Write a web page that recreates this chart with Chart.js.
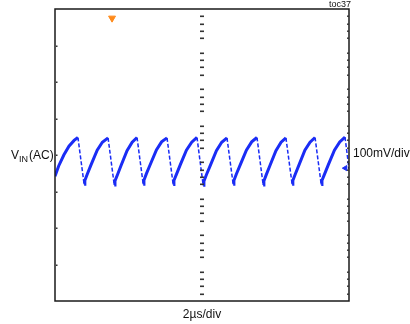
<!DOCTYPE html>
<html>
<head>
<meta charset="utf-8">
<script src="https://cdn.jsdelivr.net/npm/chart.js@4.4.1/dist/chart.umd.min.js"></script>
<style>
  body { margin: 0; background: #fff; }
</style>
</head>
<body>
<canvas id="scopeChart" width="410" height="324"></canvas>
<script>
// time in microseconds, 0..20 (10 divisions of 2us)
const timeUs = [
  0, 0.25, 0.6, 0.95, 1.3, 1.56,
  1.98, 2.03, 2.2, 2.45, 2.87, 3.22, 3.61,
  4.03, 4.08, 4.25, 4.5, 4.9, 5.25, 5.58,
  6.0, 6.05, 6.22, 6.48, 6.9, 7.25, 7.62,
  8.04, 8.09, 8.26, 8.52, 8.94, 9.3, 9.66,
  10.08, 10.13, 10.3, 10.56, 10.98, 11.34, 11.70,
  12.12, 12.17, 12.34, 12.6, 13.02, 13.38, 13.74,
  14.16, 14.21, 14.38, 14.63, 15.03, 15.38, 15.71,
  16.13, 16.18, 16.35, 16.6, 17.0, 17.35, 17.69,
  18.11, 18.16, 18.33, 18.59, 19.01, 19.37, 19.73,
  20.0
];
// VIN (AC) in mV, 100mV/div
const vinMv = [
  -58, -30, 0, 24, 40, 48,
  -80, -70, -52, -27, 13, 35, 47,
  -82, -71, -54, -28, 12, 35, 48,
  -80, -69, -51, -26, 14, 36, 47,
  -81, -70, -53, -27, 13, 35, 48,
  -83, -72, -54, -29, 12, 35, 47,
  -80, -70, -52, -27, 13, 36, 48,
  -82, -71, -53, -28, 12, 35, 47,
  -80, -70, -52, -27, 13, 35, 48,
  -81, -70, -53, -27, 13, 36, 49,
  -38
];
const triggerPos = { x: 3.88, y: 375 };
const groundPos = { x: 19.75, y: -36 };

const yMajor = [-300, -200, -100, 0, 100, 200, 300];
const yMinorStep = 20;

const points = timeUs.map((t, i) => ({ x: t, y: vinMv[i] }));

const scopeDecor = {
  id: 'scopeDecor',
  afterDatasetsDraw(chart) {
    const { ctx, chartArea: a, scales: { x, y } } = chart;
    ctx.save();
    // frame
    ctx.strokeStyle = '#1a1a1a';
    ctx.lineWidth = 1.5;
    ctx.strokeRect(a.left, a.top, a.right - a.left, a.bottom - a.top);

    ctx.fillStyle = '#333';
    const cx = x.getPixelForValue(10);
    for (let v = y.min + yMinorStep; v < y.max; v += yMinorStep) {
      if (v % 100 === 0) continue;
      const py = Math.round(y.getPixelForValue(v));
      ctx.fillRect(cx - 2, py - 0.5, 4, 1.6);
      ctx.fillRect(a.right - 2, py - 0.5, 2, 1.4);
    }
    yMajor.forEach(v => {
      const py = Math.round(y.getPixelForValue(v));
      ctx.fillRect(a.left + 1, py - 0.5, 1.5, 1.5);
    });

    // texts
    ctx.fillStyle = '#111';
    ctx.textBaseline = 'alphabetic';
    ctx.font = '12px "Liberation Sans", Arial, sans-serif';
    const midY = y.getPixelForValue(0);
    ctx.textAlign = 'left';
    ctx.fillText('100mV/div', a.right + 4, midY + 2);
    ctx.textAlign = 'center';
    ctx.fillText('2\u00b5s/div', cx, a.bottom + 17);

    // V_IN (AC)
    ctx.textAlign = 'left';
    let tx = 11;
    ctx.font = '12px "Liberation Sans", Arial, sans-serif';
    ctx.fillText('V', tx, midY + 4);
    tx += ctx.measureText('V').width;
    ctx.font = '9px "Liberation Sans", Arial, sans-serif';
    ctx.fillText('IN', tx, midY + 7);
    tx += ctx.measureText('IN').width + 1;
    ctx.font = '12px "Liberation Sans", Arial, sans-serif';
    ctx.fillText('(AC)', tx, midY + 4);

    ctx.font = '9px "Liberation Sans", Arial, sans-serif';
    ctx.textAlign = 'right';
    ctx.fillText('toc37', a.right + 2, a.top - 2);
    ctx.restore();
  }
};

const ctx = document.getElementById('scopeChart').getContext('2d');
new Chart(ctx, {
  type: 'line',
  data: {
    datasets: [{
      label: 'VIN (AC)',
      data: points,
      borderColor: '#1a2cf5',
      borderWidth: 3,
      pointRadius: 0,
      tension: 0,
      segment: {
        borderWidth: s => s.p1.parsed.y < s.p0.parsed.y - 40 ? 1.5 : undefined,
        borderDash: s => s.p1.parsed.y < s.p0.parsed.y - 40 ? [4, 2] : undefined
      }
    }, {
      label: 'trigger',
      data: [triggerPos],
      showLine: false,
      pointStyle: 'triangle',
      rotation: 180,
      pointRadius: 4,
      backgroundColor: '#ff8a1a',
      borderColor: '#ff8a1a',
      borderWidth: 1
    }, {
      label: 'ground',
      data: [groundPos],
      showLine: false,
      pointStyle: 'triangle',
      rotation: 270,
      pointRadius: 3,
      backgroundColor: '#1a2cf5',
      borderColor: '#1a2cf5',
      borderWidth: 1
    }]
  },
  options: {
    responsive: false,
    animation: false,
    layout: { padding: { left: 55, right: 61, top: 9, bottom: 23 } },
    plugins: {
      legend: { display: false },
      tooltip: { enabled: false }
    },
    scales: {
      x: { type: 'linear', min: 0, max: 20, display: false },
      y: { type: 'linear', min: -400, max: 400, display: false }
    }
  },
  plugins: [scopeDecor]
});
</script>
</body>
</html>
